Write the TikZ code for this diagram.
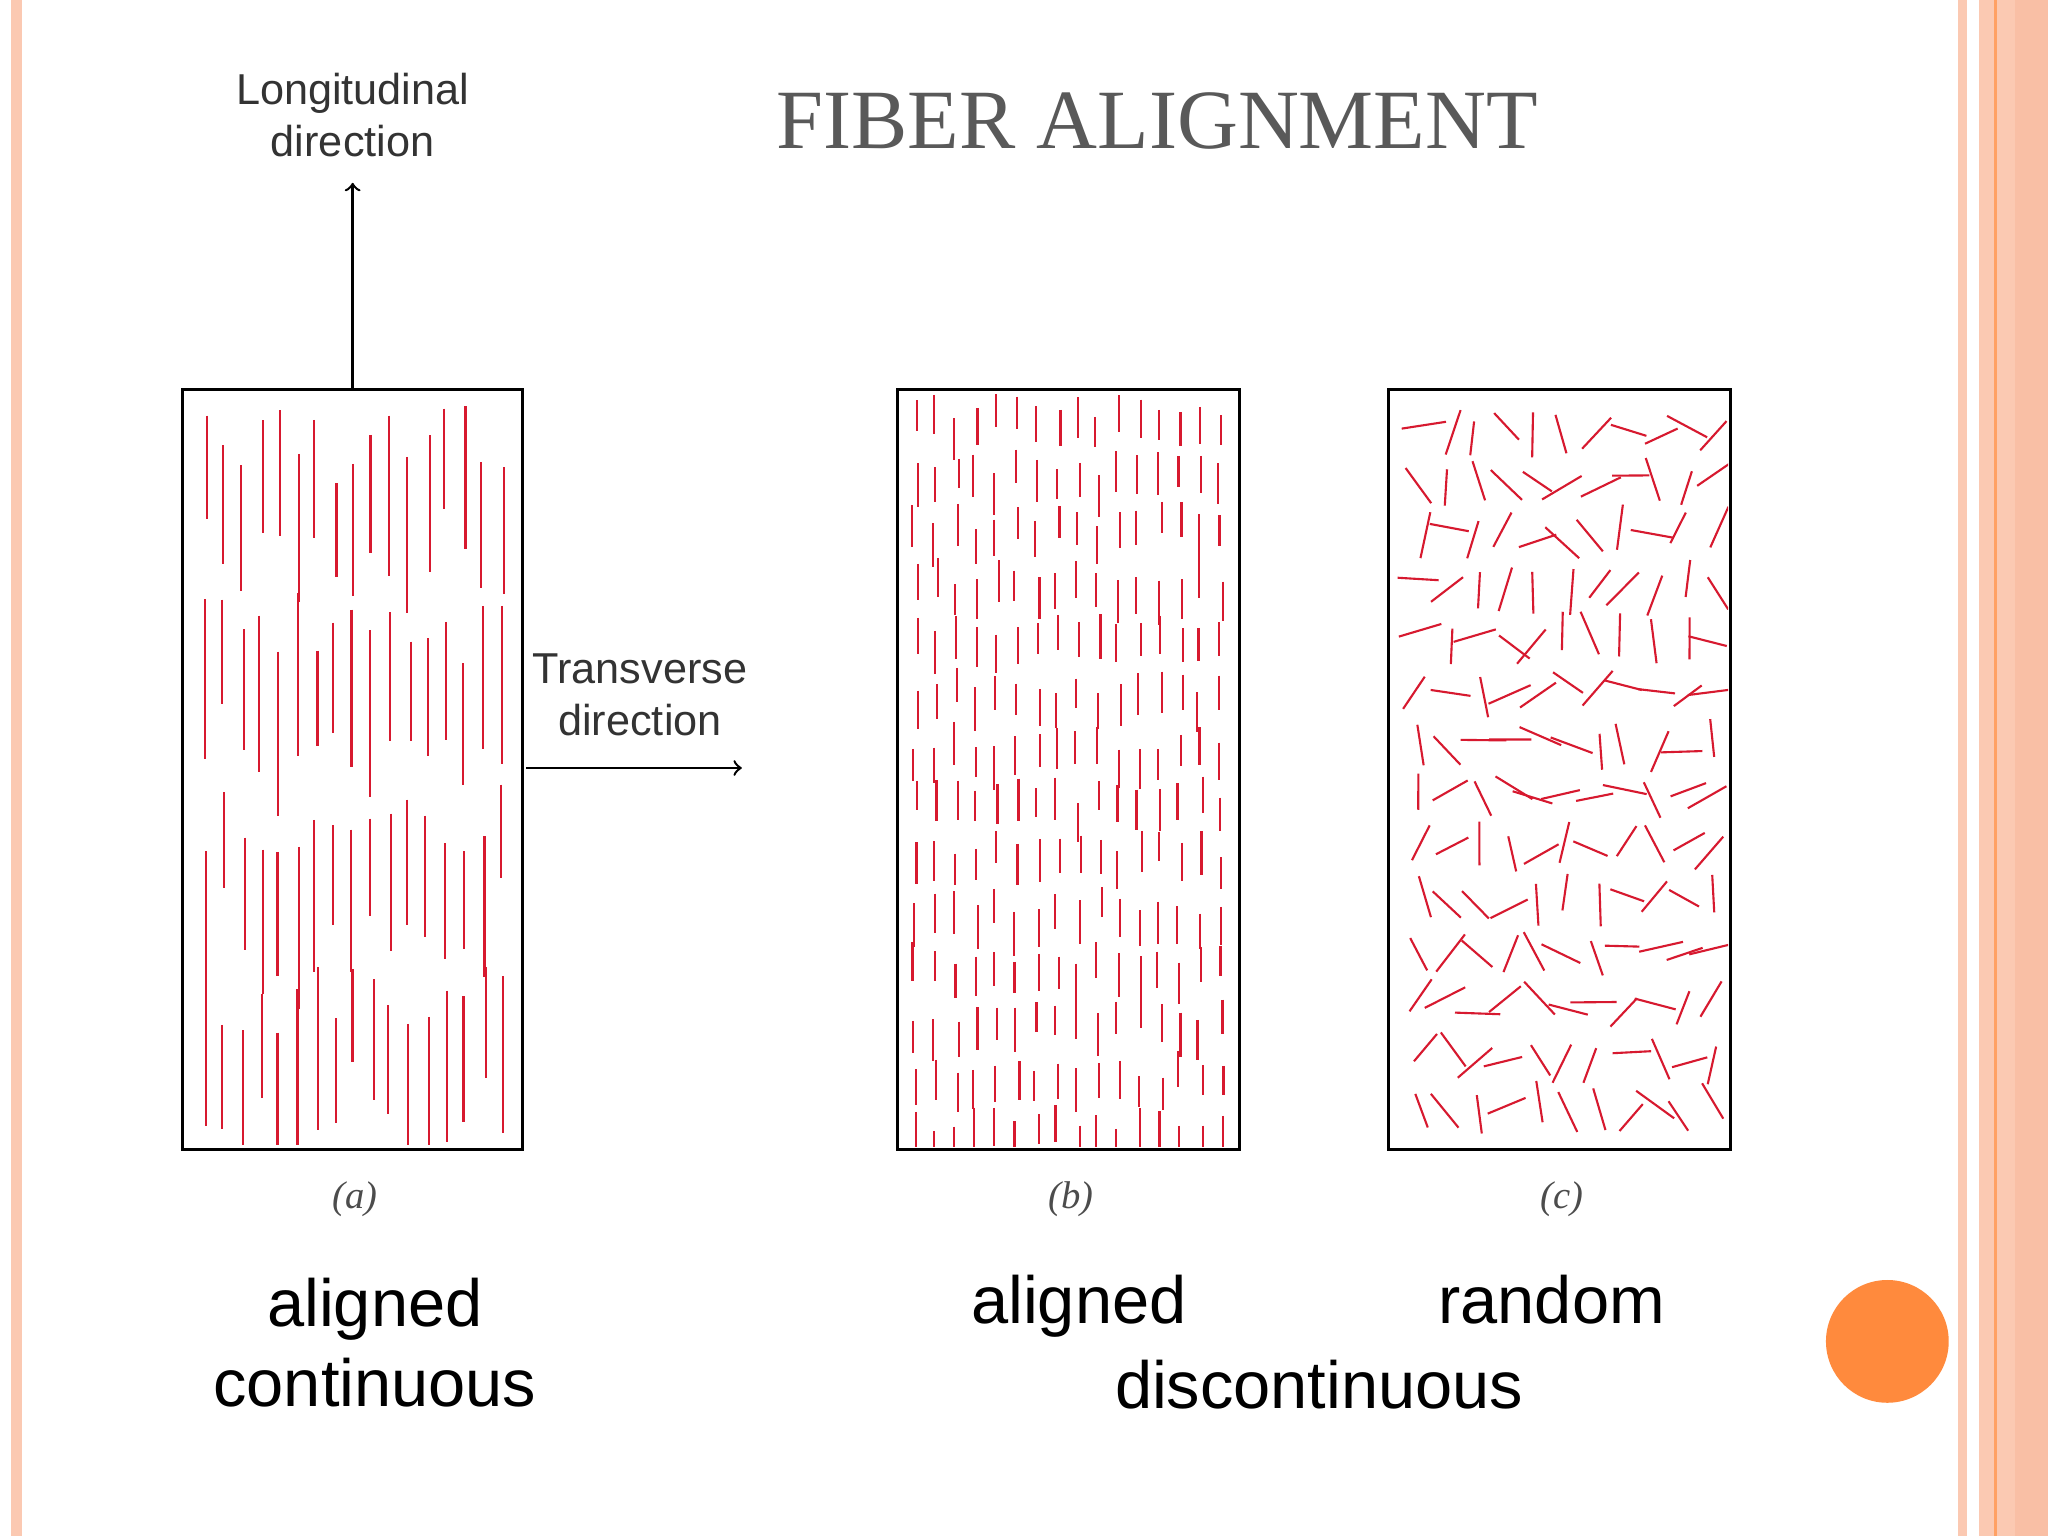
\documentclass[tikz,border=0pt]{standalone}
\usepackage{fontspec}
\setmainfont{Liberation Serif}
\setsansfont{Liberation Sans}
\usetikzlibrary{calc}
\begin{document}
\begin{tikzpicture}[x=0.01306cm,y=-0.01306cm]
\definecolor{peach}{HTML}{FBC9B2}
\definecolor{peachd}{HTML}{F9BFA5}
\definecolor{orng}{HTML}{FF8A3D}
\definecolor{fib}{HTML}{D7192F}
\tikzset{fb/.style={draw=fib,line width=0.6pt},
  bx/.style={draw=black,line width=0.8pt},
  lbl/.style={font=\sffamily\fontsize{12.3}{15}\selectfont,text=black!80,align=center},
  sublbl/.style={font=\itshape\fontsize{11}{13}\selectfont,text=black!70},
  big/.style={font=\sffamily\fontsize{19}{23}\selectfont,align=center}}
\useasboundingbox (0,0) rectangle (1568,1176);
\fill[white] (0,0) rectangle (1568,1176);
\fill[peach] (8.4,0) rectangle (16.8,1176);
\fill[peach] (1499,0) rectangle (1506,1176);
\fill[peach] (1515,0) rectangle (1568,1176);
\fill[peachd] (1543,0) rectangle (1568,1176);
\fill[orng!80] (1527,0) rectangle (1529,1176);
\node[font=\fontsize{24}{28}\selectfont,text=black!65] (title) at (886,93) {FIBER ALIGNMENT};
% boxes
\draw[bx] (140,298) rectangle (400,880);
\draw[bx] (687,298) rectangle (949,880);
\draw[bx] (1063,298) rectangle (1325,880);
\coordinate (atop) at (270,298);
\pgfmathsetseed{7}
\begin{scope}
\clip (142,302) rectangle (398,876);
\foreach \i in {0,...,16}{
  \foreach \j in {0,...,3}{
    \pgfmathsetmacro{\xx}{155+\i*14.2+rnd*4}
    \pgfmathsetmacro{\yy}{310+\j*142+rnd*60}
    \pgfmathsetmacro{\ll}{70+rnd*60}
    \draw[fb] (\xx,\yy) -- ++(0,\ll);
  }}
\end{scope}
\begin{scope}
\clip (689,300) rectangle (947,878);
\foreach \i in {0,...,15}{
  \foreach \j in {0,...,13}{
    \pgfmathsetmacro{\xx}{698+\i*15.6+rnd*5}
    \pgfmathsetmacro{\yy}{300+\j*42+rnd*22}
    \pgfmathsetmacro{\ll}{22+rnd*12}
    \draw[fb] (\xx,\yy) -- ++(0,\ll);
  }}
\end{scope}
\begin{scope}
\clip (1065,300) rectangle (1323,878);
\foreach \i in {0,...,10}{
  \foreach \j in {0,...,13}{
    \pgfmathsetmacro{\xx}{1082+\i*22.5+rnd*10}
    \pgfmathsetmacro{\yy}{322+\j*40+rnd*14}
    \pgfmathsetmacro{\ll}{13+rnd*5}
    \pgfmathsetmacro{\aa}{rnd*180}
    \draw[fb] ($(\xx,\yy)+(\aa:\ll)$) -- ($(\xx,\yy)+(\aa+180:\ll)$);
  }}
\end{scope}
% arrows
\coordinate (lt) at (270,140);
\coordinate (tr0) at (403,588);
\coordinate (tr1) at (568,588);
\draw[->,line width=0.7pt] (atop) -- (lt);
\draw[->,line width=0.7pt] (tr0) -- (tr1);
\node[lbl] (lon) at (270,88) {Longitudinal\\direction};
\node[lbl] (trv) at (490,532) {Transverse\\direction};
\node[sublbl] (la) at (272,918) {(a)};
\node[sublbl] (lb) at (820,918) {(b)};
\node[sublbl] (lc) at (1196,918) {(c)};
\node[big] (t1) at (287,1028) {aligned\\continuous};
\node[big,anchor=base] (t2) at (826,1013) {aligned};
\node[big,anchor=base] (t3) at (1188,1013) {random};
\node[big] (t4) at (1010,1060) {discontinuous};
\fill[orng] (1445,1027) circle (47);
\end{tikzpicture}
\end{document}
